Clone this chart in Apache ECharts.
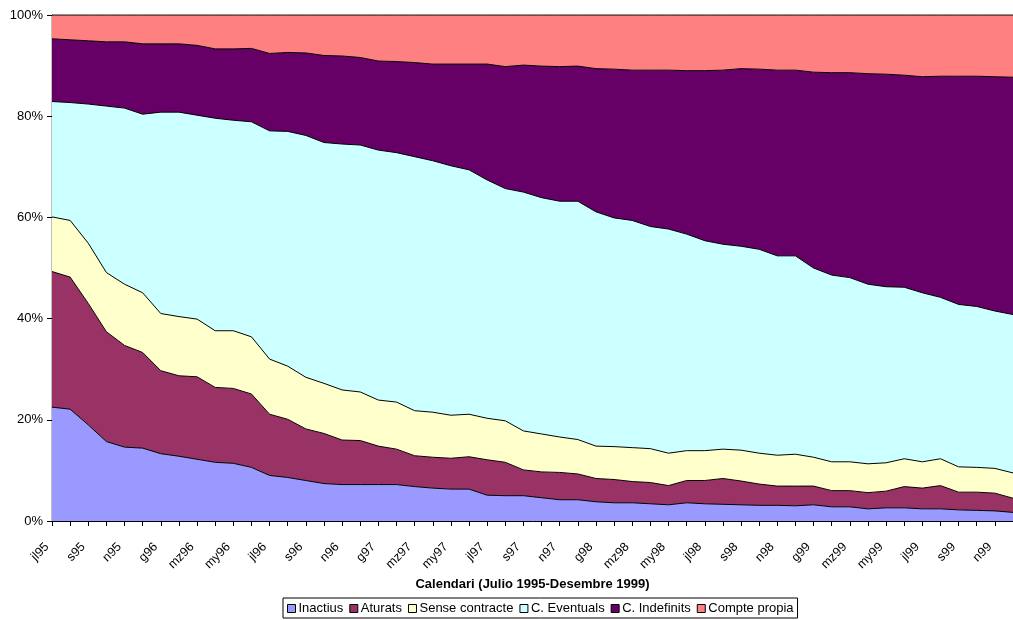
<!DOCTYPE html>
<html>
<head>
<meta charset="utf-8">
<script src="https://cdn.jsdelivr.net/npm/echarts@6/dist/echarts.min.js"></script>
<style>
html,body{margin:0;padding:0;background:#fff;}
#c{width:1013px;height:620px;}
</style>
</head>
<body>
<div id="c"></div>
<script>
const months = ['jl95','ag95','s95','o95','n95','d95',
  'g96','f96','mz96','ab96','my96','jn96','jl96','ag96','s96','o96','n96','d96',
  'g97','f97','mz97','ab97','my97','jn97','jl97','ag97','s97','o97','n97','d97',
  'g98','f98','mz98','ab98','my98','jn98','jl98','ag98','s98','o98','n98','d98',
  'g99','f99','mz99','ab99','my99','jn99','jl99','ag99','s99','o99','n99','d99'];

const inactius = [22.5,22.1,19.0,15.7,14.6,14.4,13.3,12.8,12.2,11.6,11.4,10.6,9.0,8.6,8.0,7.4,7.2,7.2,7.2,7.2,6.8,6.5,6.3,6.3,5.1,5.0,5.0,4.6,4.2,4.2,3.8,3.6,3.6,3.4,3.2,3.6,3.4,3.3,3.2,3.1,3.1,3.0,3.2,2.8,2.8,2.4,2.6,2.6,2.4,2.4,2.2,2.1,2.0,1.7];
const aturats = [26.8,26.1,24.0,21.7,20.1,18.9,16.4,15.9,16.3,14.8,14.8,14.5,12.1,11.5,10.2,9.9,8.8,8.7,7.6,7.0,6.1,6.1,6.1,6.4,7.0,6.6,5.1,5.1,5.4,5.1,4.6,4.6,4.2,4.2,3.8,4.4,4.6,5.1,4.7,4.2,3.8,3.9,3.7,3.2,3.2,3.2,3.3,4.2,4.1,4.6,3.5,3.6,3.5,2.8];
const senseContracte = [10.8,11.2,11.9,11.7,12.1,11.8,11.3,11.7,11.4,11.2,11.4,11.3,10.9,10.5,10.2,9.9,9.9,9.6,9.1,9.3,8.9,8.9,8.5,8.4,8.2,8.2,7.7,7.5,7.0,6.8,6.4,6.5,6.7,6.7,6.4,5.9,5.9,5.8,6.1,6.1,6.1,6.3,5.7,5.7,5.7,5.7,5.6,5.5,5.2,5.3,5.0,4.9,4.9,5.0];
const eventuals = [22.8,23.3,27.5,32.9,34.8,35.3,39.8,40.4,40.3,42.0,41.6,42.5,45.1,46.4,47.8,47.6,48.6,48.8,49.4,49.3,50.2,49.7,49.3,48.3,47.1,45.9,47.2,46.7,46.6,47.1,46.3,45.2,44.9,43.9,44.3,42.8,41.5,40.5,40.3,40.3,39.4,39.2,37.4,36.9,36.4,35.5,34.8,33.9,33.4,31.9,32.1,31.8,31.1,31.3];
const indefinits = [12.4,12.4,12.5,12.7,13.1,13.9,13.5,13.5,13.8,13.7,14.1,14.5,15.3,15.6,16.3,17.2,17.4,17.3,17.6,18.0,18.6,19.1,20.1,20.9,22.9,24.1,25.1,26.0,26.6,26.7,28.3,29.4,29.7,30.9,31.4,32.3,33.6,34.4,35.1,35.6,36.7,36.7,38.7,40.0,40.5,41.6,42.0,41.9,42.7,43.7,45.1,45.5,46.3,46.9];
const comptePropia = [4.7,4.9,5.1,5.3,5.3,5.7,5.7,5.7,6.0,6.7,6.7,6.6,7.6,7.4,7.5,8.0,8.1,8.4,9.1,9.2,9.4,9.7,9.7,9.7,9.7,10.2,9.9,10.1,10.2,10.1,10.6,10.7,10.9,10.9,10.9,11.0,11.0,10.9,10.6,10.7,10.9,10.9,11.3,11.4,11.4,11.6,11.7,11.9,12.2,12.1,12.1,12.1,12.2,12.3];

const seriesNames = ['Inactius','Aturats','Sense contracte','C. Eventuals','C. Indefinits','Compte propia'];
const seriesColors = ['#9999FF','#993366','#FFFFCC','#CCFFFF','#660066','#FF8080'];
const seriesData = [inactius, aturats, senseContracte, eventuals, indefinits, comptePropia];
const yTicks = [0,20,40,60,80,100];

const chart = echarts.init(document.getElementById('c'), null, {renderer:'canvas'});
const FONT = 'Liberation Sans, Arial, sans-serif';
chart.setOption({
  backgroundColor: '#fff',
  animation: false,
  textStyle: {fontFamily: FONT},
  grid: {left: 52, top: 15, bottom: 99, right: -10, show: true, borderColor: '#808080', borderWidth: 1, backgroundColor: 'transparent'},
  legend: {
    data: seriesNames,
    top: 598, left: 283,
    itemWidth: 8, itemHeight: 8, itemGap: 6,
    icon: 'rect',
    borderColor: '#000', borderWidth: 1, padding: [4, 4, 3, 4],
    textStyle: {fontSize: 13, color: '#000', fontFamily: FONT, padding: [0,0,0,-2]},
    itemStyle: {borderColor: '#000', borderWidth: 1}
  },
  xAxis: {
    type: 'category', data: months, boundaryGap: false,
    name: 'Calendari (Julio 1995-Desembre 1999)', nameLocation: 'middle', nameGap: 52,
    nameTextStyle: {fontWeight: 'bold', fontSize: 13, color: '#000', fontFamily: FONT},
    axisLine: {lineStyle: {color: '#000', width: 1}},
    axisTick: {show: true, interval: 0, length: 5, lineStyle: {color: '#000'}},
    axisLabel: {interval: 1, rotate: 45, fontSize: 12.5, color: '#000', margin: 19, padding: [0, 7, 0, 0], fontFamily: FONT},
    splitLine: {show: false}
  },
  yAxis: {
    type: 'value', min: yTicks[0], max: yTicks[yTicks.length-1], interval: 20,
    axisLine: {show: true, lineStyle: {color: '#000', width: 1}},
    axisTick: {show: true, length: 5, lineStyle: {color: '#000'}},
    axisLabel: {formatter: '{value}%', fontSize: 13, color: '#000', margin: 9, fontFamily: FONT},
    splitLine: {show: false}
  },
  series: seriesNames.map((n, i) => ({
    name: n, type: 'line', stack: 'total', data: seriesData[i],
    symbol: 'none', showSymbol: false,
    lineStyle: {color: '#000', width: 1},
    itemStyle: {color: seriesColors[i], borderColor: '#000', borderWidth: 1},
    areaStyle: {color: seriesColors[i], opacity: 1},
    z: 2
  }))
});
</script>
</body>
</html>
